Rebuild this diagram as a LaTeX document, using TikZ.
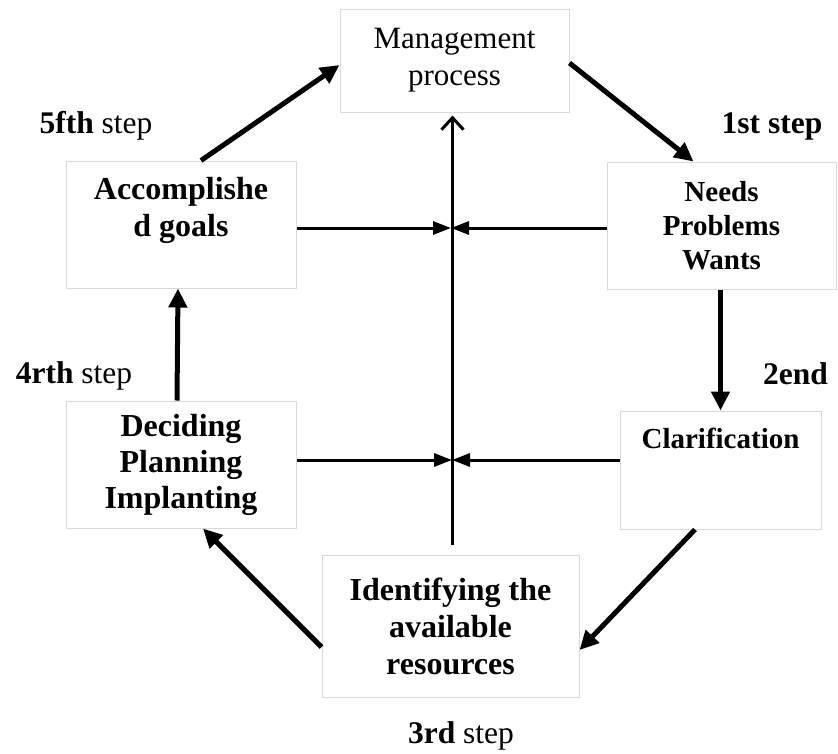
\documentclass[tikz,border=0pt]{standalone}
\usepackage{fontspec}
\setmainfont{Liberation Serif}
\usetikzlibrary{arrows.meta}

\tikzset{
  box/.style={draw=black!15, line width=1pt, align=center, inner sep=0pt,
    font=\fontsize{32}{36}\selectfont\bfseries},
  toptext/.style={anchor=north, align=center, inner sep=0pt,
    font=\fontsize{32}{37}\selectfont\bfseries},
  steplbl/.style={anchor=base, inner sep=0pt, font=\fontsize{31.5}{36}\selectfont},
  flow/.style={-{Triangle[length=19pt,width=18pt]}, line width=5pt},
  feed/.style={-{Triangle[length=18pt,width=13pt]}, line width=3pt},
}

\begin{document}
\begin{tikzpicture}[x=1pt, y=-1pt]
\useasboundingbox (0,0) rectangle (838,753);

% boxes
\node[box, minimum width=229pt, minimum height=103pt, font=\fontsize{31}{37}\selectfont] (mgmt) at (454.5,60.5) {Management\\process};
\node[box, minimum width=230pt, minimum height=127pt,
  label={[toptext, yshift=-17pt]north:Accomplishe\\d goals}] (acc) at (181,224.5) {};
\node[box, minimum width=229pt, minimum height=127pt, font=\fontsize{29}{34}\selectfont\bfseries] (needs) at (721.5,225.5) {Needs\\Problems\\Wants};
\node[box, minimum width=230pt, minimum height=127pt] (dec) at (181,464.5) {Deciding\\Planning\\Implanting};
\node[box, minimum width=201pt, minimum height=118pt,
  label={[toptext, yshift=-17pt, font=\fontsize{29}{34}\selectfont\bfseries]north:Clarification}] (clar) at (720.5,470) {};
\node[box, minimum width=257pt, minimum height=142pt, font=\fontsize{32}{37}\selectfont\bfseries] (ident) at (450.5,626) {Identifying the\\available\\resources};

% step labels
\node[steplbl] (s1) at (772,133) {\textbf{1st step}};
\node[steplbl] (s2) at (795.5,384) {\textbf{2end}};
\node[steplbl] (s3) at (461,743) {\textbf{3rd} step};
\node[steplbl] (s4) at (74,383) {\textbf{4rth} step};
\node[steplbl] (s5) at (96,133) {\textbf{5fth} step};

% meeting points
\coordinate (hubA) at (451,228);
\coordinate (hubB) at (452,460);

% cycle
\draw[flow] ([xshift=20pt]acc.north) -- ([yshift=-4.5pt]mgmt.west);
\draw[flow] ([yshift=-2.5pt]mgmt.east) -- ([xshift=-28pt]needs.north);
\draw[flow] ([xshift=-1pt]needs.south) -- (clar.north);
\draw[flow] ([xshift=-25.5pt]clar.south) -- ([yshift=-24pt]ident.east);
\draw[flow] ([yshift=-21pt]ident.west) -- ([xshift=22pt]dec.south);
\draw[flow] ([xshift=-4pt]dec.north) -- ([xshift=-3pt]acc.south);

% feed-ins
\foreach \src/\hub in {acc.east/hubA, needs.west/hubA, dec.east/hubB, clar.west/hubB}
  \draw[feed] (\src |- \hub) -- (\hub);

% central line
\draw[line width=3pt, -{Straight Barb[length=12pt,width=22pt]}, shorten <=10pt, shorten >=3pt] ([xshift=2pt]ident.north) -- ([xshift=-2pt]mgmt.south);
\end{tikzpicture}
\end{document}
